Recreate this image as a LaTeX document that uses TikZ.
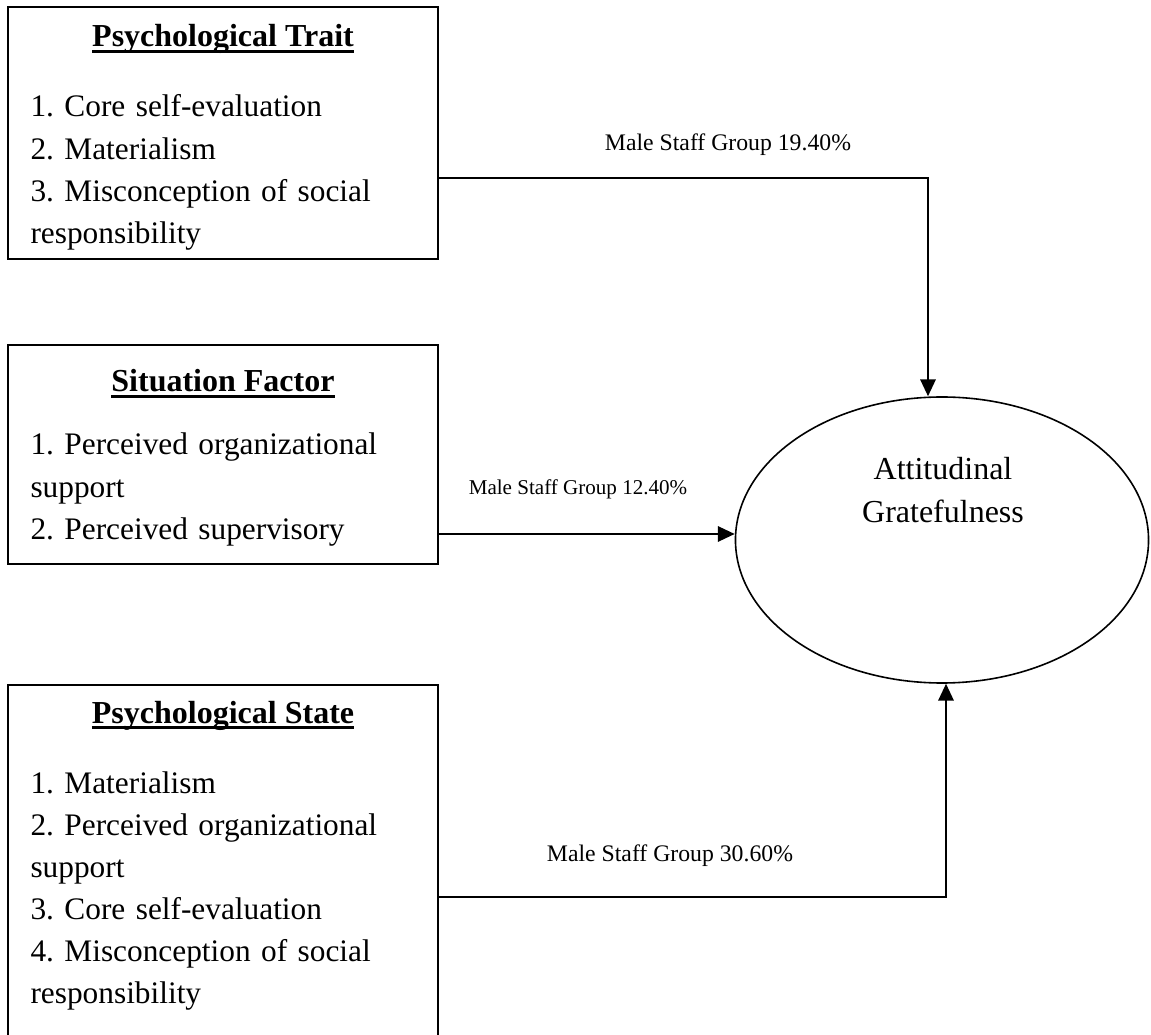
\documentclass[tikz,border=0pt]{standalone}
\usepackage{fontspec}
\setmainfont{Liberation Serif}
\usepackage{tikz}
\usetikzlibrary{positioning, arrows.meta, shapes.geometric}

% underline that crosses the descenders
\newsavebox{\headbox}
\newcommand{\headline}[1]{\sbox{\headbox}{#1}%
  \rlap{\rule[-2.2pt]{\wd\headbox}{0.9pt}}\usebox{\headbox}}

\begin{document}
\frenchspacing
\begin{tikzpicture}[
  x=0.375pt, y=-0.375pt,
  factor/.style={rectangle, draw, line width=0.75pt,
                 minimum width=161.25pt, inner sep=0pt},
  outcome/.style={ellipse, draw, line width=0.6pt, inner sep=0pt,
                  minimum width=154.9pt, minimum height=107.25pt},
  head/.style={anchor=base, inner sep=0pt,
               font=\fontsize{12}{15.8}\selectfont\bfseries},
  items/.style={anchor=base west, inner sep=0pt, text width=150pt,
                align=left, font=\fontsize{11.75}{15.8}\selectfont},
  share/.style={anchor=base, inner sep=0pt,
                font=\fontsize{8.9}{10}\selectfont},
  arr/.style={-{Triangle[length=6.3pt, width=5.8pt]}, line width=0.6pt}
]
\useasboundingbox (0,0) rectangle (1151,1035);
\clip (0,0) rectangle (1151,1035);

\node[factor, minimum height=94.5pt] (trait) at (223,133) {};
\node[head] (traithead) at (223,47) {\headline{Psychological Trait}};
\node[items] (traitlist) at (30,117)
  {1. Core self-evaluation\\2. Materialism\\3. Misconception of social\\responsibility};

\node[factor, minimum height=82.125pt] (situ) at (223,454.5) {};
\node[head] (situhead) at (223,392) {\headline{Situation Factor}};
\node[items] (situlist) at (30,455)
  {1. Perceived organizational\\support\\2. Perceived supervisory};

\node[factor, minimum height=136.875pt] (state) at (223,867.5) {};
\node[head] (statehead) at (223,723) {\headline{Psychological State}};
\node[items] (statelist) at (30,793)
  {1. Materialism\\2. Perceived organizational\\support\\3. Core self-evaluation\\4. Misconception of social\\responsibility};

\node[outcome] (att) at (942,540) {};
\node[anchor=base, inner sep=0pt, text width=100pt, align=center,
      font=\fontsize{12}{15.8}\selectfont] (atttext) at (943,480)
  {Attitudinal\\Gratefulness};

\coordinate (t1) at (928,178);
\coordinate (s1) at (600,534);
\coordinate (p1) at (946,897);

\node[share] (traitshare) at (728,151) {Male Staff Group 19.40\%};
\node[share, font=\fontsize{7.9}{9}\selectfont] (situshare) at (578,495) {Male Staff Group 12.40\%};
\node[share] (stateshare) at (670,861) {Male Staff Group 30.60\%};

\draw[arr] (trait.east |- t1) -| (att.north -| t1);
\draw[arr] (situ.east |- s1) -- (att.west |- s1);
\draw[arr] (state.east |- p1) -| (att.south -| p1);
\end{tikzpicture}
\end{document}
